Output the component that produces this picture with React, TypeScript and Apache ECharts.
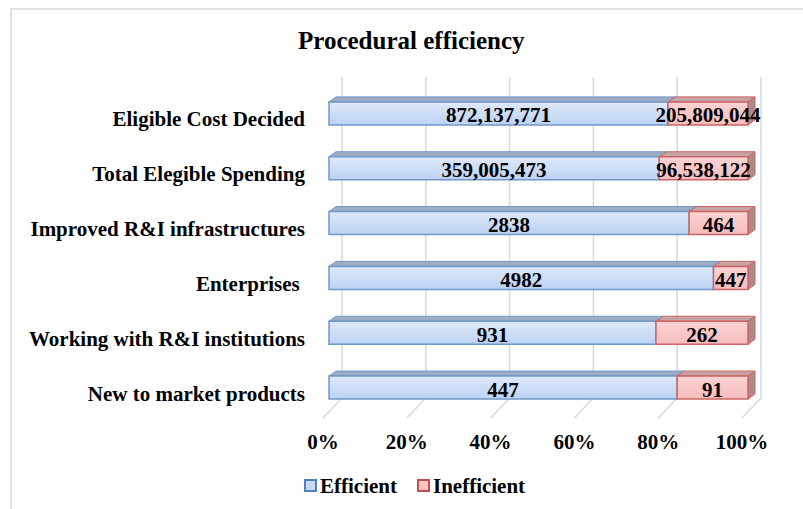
import React, { useEffect, useRef } from "react";
import * as echarts from "echarts";

const categories = [
  "New to market products",
  "Working with R&I institutions",
  "Enterprises ",
  "Improved R&I infrastructures",
  "Total Elegible Spending",
  "Eligible Cost Decided",
];
const efficient = [447, 931, 4982, 2838, 359005473, 872137771];
const inefficient = [91, 262, 447, 464, 96538122, 205809044];
const xTicks = [0, 20, 40, 60, 80, 100];
const seriesNames = ["Efficient", "Inefficient"];

const FONT = '"Liberation Serif", "Times New Roman", serif';

function fmt(v: number): string {
  return v >= 100000 ? v.toLocaleString("en-US") : String(v);
}

const DX = 7;
const DY = -5;

function makeRender(front: any, border: string, top: string, side: string) {
  return (params: any, api: any) => {
    const s = api.value(0);
    const e = api.value(1);
    const cat = api.value(2);
    const raw = api.value(3);
    const p0 = api.coord([s, cat]);
    const p1 = api.coord([e, cat]);
    const h = api.size([0, 1])[1] * 0.42;
    const x = p0[0];
    const w = p1[0] - p0[0];
    const y = p0[1] - h / 2;
    return {
      type: "group",
      children: [
        {
          type: "polygon",
          shape: { points: [[x, y], [x + DX, y + DY], [x + w + DX, y + DY], [x + w, y]] },
          style: { fill: top, stroke: border, lineWidth: 1 },
        },
        {
          type: "polygon",
          shape: { points: [[x + w, y], [x + w + DX, y + DY], [x + w + DX, y + h + DY], [x + w, y + h]] },
          style: { fill: side, stroke: border, lineWidth: 1 },
        },
        {
          type: "rect",
          shape: { x, y, width: w, height: h },
          style: { fill: front, stroke: border, lineWidth: 1.5 },
        },
        {
          type: "text",
          x: x + w / 2,
          y: y + h / 2 + 2,
          style: {
            text: fmt(raw),
            align: "center",
            verticalAlign: "middle",
            font: `bold 21px ${FONT}`,
            fill: "#000",
          },
        },
      ],
    };
  };
}

export default function App() {
  const ref = useRef<HTMLDivElement>(null);
  useEffect(() => {
    document.body.style.margin = "0";
    if (!ref.current) return;
    const chart = echarts.init(ref.current, undefined, { renderer: "svg" });

    const effData = categories.map((_, i) => {
      const t = efficient[i] + inefficient[i];
      return [0, (efficient[i] / t) * 100, i, efficient[i]];
    });
    const ineffData = categories.map((_, i) => {
      const t = efficient[i] + inefficient[i];
      return [(efficient[i] / t) * 100, 100, i, inefficient[i]];
    });

    const blueFront = new echarts.graphic.LinearGradient(0, 0, 0, 1, [
      { offset: 0, color: "#dfe9fa" },
      { offset: 1, color: "#bcd2f3" },
    ]);
    const redFront = new echarts.graphic.LinearGradient(0, 0, 0, 1, [
      { offset: 0, color: "#fbd3d3" },
      { offset: 1, color: "#f6bcbc" },
    ]);

    chart.setOption({
      animation: false,
      title: {
        text: "Procedural efficiency",
        left: 293,
        top: 23,
        textStyle: { fontFamily: FONT, fontSize: 25, fontWeight: "bold", color: "#000" },
      },
      graphic: [
        {
          type: "rect",
          shape: { x: 11, y: 9, width: 810, height: 520 },
          style: { fill: "none", stroke: "#d9d9d9", lineWidth: 1.5 },
          silent: true,
        },
      ],
      legend: {
        data: seriesNames,
        bottom: 8,
        left: 299,
        itemWidth: 11,
        itemHeight: 11,
        itemGap: 20,
        icon: "rect",
        textStyle: { fontFamily: FONT, fontSize: 21, fontWeight: "bold", color: "#000", padding: [0, 0, 0, -1] },
      },
      grid: { left: 329, right: 55, top: 86, bottom: 94 },
      xAxis: {
        type: "value",
        min: 0,
        max: 100,
        interval: 20,
        axisLine: { show: false },
        axisTick: { show: false },
        splitLine: { show: false },
        axisLabel: {
          margin: 16,
          fontFamily: FONT,
          fontSize: 21,
          fontWeight: "bold",
          color: "#000",
          formatter: (v: number) => `${v}%`,
          padding: [0, 12, 0, 0],
        },
      },
      yAxis: {
        type: "category",
        data: categories,
        axisLine: { show: false },
        axisTick: { show: false },
        axisLabel: {
          margin: 24,
          fontFamily: FONT,
          fontSize: 21,
          fontWeight: "bold",
          color: "#000",
          verticalAlign: "top",
          lineHeight: 12,
        },
      },
      series: [
        {
          type: "custom",
          name: "wall",
          silent: true,
          data: xTicks.map((v) => [v]),
          encode: { x: 0 },
          renderItem: (params: any, api: any) => {
            const cs = params.coordSys;
            const X = api.coord([api.value(0), 0])[0];
            const top = cs.y - 9;
            const bot = cs.y + cs.height - 17;
            return {
              type: "polyline",
              shape: { points: [[X + 13, top], [X + 13, bot], [X - 6, bot + 20]] },
              style: { stroke: "#d9d9d9", lineWidth: 1.5, fill: "none" },
            };
          },
          z: 1,
        },
        {
          type: "custom",
          name: "Efficient",
          data: effData,
          encode: { x: [0, 1], y: 2 },
          itemStyle: { color: "#c6d9f4", borderColor: "#4f81bd", borderWidth: 1 },
          renderItem: makeRender(blueFront, "#7098c8", "#9eacc4", "#8e9cb4"),
          z: 2,
        },
        {
          type: "custom",
          name: "Inefficient",
          data: ineffData,
          encode: { x: [0, 1], y: 2 },
          itemStyle: { color: "#f8c4c4", borderColor: "#c0504d", borderWidth: 1 },
          renderItem: makeRender(redFront, "#d06464", "#c4a4a4", "#a88c8c"),
          z: 3,
        },
      ],
    });
    return () => chart.dispose();
  }, []);
  return <div ref={ref} style={{ width: 803, height: 509 }} />;
}
